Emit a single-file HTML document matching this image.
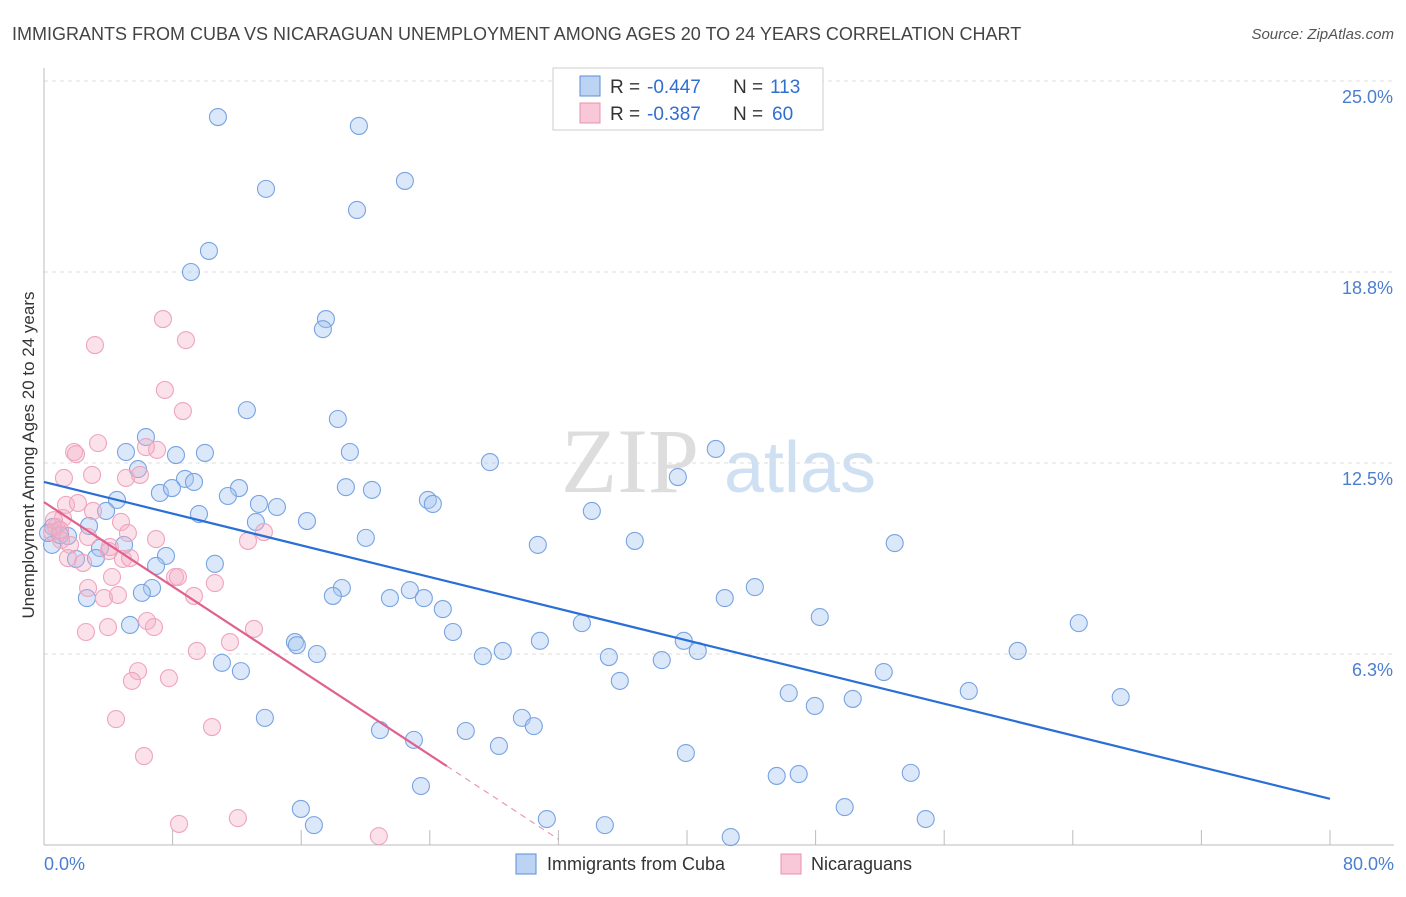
<!DOCTYPE html>
<html><head><meta charset="utf-8"><style>
body{margin:0;background:#fff;font-family:"Liberation Sans",sans-serif}
svg text{font-family:"Liberation Sans",sans-serif}
</style></head><body>
<svg id="c" width="1406" height="892">
<text x="12" y="40" font-size="18" fill="#444">IMMIGRANTS FROM CUBA VS NICARAGUAN UNEMPLOYMENT AMONG AGES 20 TO 24 YEARS CORRELATION CHART</text>
<text x="1394" y="39" font-size="15" fill="#555" font-style="italic" text-anchor="end">Source: ZipAtlas.com</text>
<g><text x="630" y="492" font-size="92" fill="#ddd" font-family="Liberation Serif" text-anchor="middle" style="font-family:'Liberation Serif',serif">ZIP</text><text x="800" y="492" font-size="72" fill="#cfe0f3" text-anchor="middle">atlas</text></g>
<g id="grid"></g>
<g id="pts"></g>
<g id="lines"></g>
<text transform="translate(34,455) rotate(-90)" font-size="17" fill="#333" text-anchor="middle">Unemployment Among Ages 20 to 24 years</text>
<text x="44" y="870" font-size="18" fill="#4a7fd0">0.0%</text>
<text x="1394" y="870" font-size="18" fill="#4a7fd0" text-anchor="end">80.0%</text>
<g>
<rect x="553" y="68" width="270" height="62" fill="#fff" stroke="#ccc"/>
<rect x="580" y="76" width="20" height="20" fill="#bcd3f3" stroke="#5b8fd9"/>
<rect x="580" y="103" width="20" height="20" fill="#f8c8d8" stroke="#e890ae"/>
<text x="610" y="93" font-size="19" fill="#333">R =</text>
<text x="647" y="93" font-size="19" fill="#2f6fd0">-0.447</text>
<text x="733" y="93" font-size="19" fill="#333">N =</text>
<text x="770" y="93" font-size="19" fill="#2f6fd0">113</text>
<text x="610" y="120" font-size="19" fill="#333">R =</text>
<text x="647" y="120" font-size="19" fill="#2f6fd0">-0.387</text>
<text x="733" y="120" font-size="19" fill="#333">N =</text>
<text x="772" y="120" font-size="19" fill="#2f6fd0">60</text>
</g>
<g>
<rect x="516" y="854" width="20" height="20" fill="#bcd3f3" stroke="#5b8fd9"/>
<text x="547" y="870" font-size="18" fill="#333">Immigrants from Cuba</text>
<rect x="781" y="854" width="20" height="20" fill="#f8c8d8" stroke="#e890ae"/>
<text x="811" y="870" font-size="18" fill="#333">Nicaraguans</text>
</g>
</svg>
<script>
const yTicks=[6.25,12.5,18.75,25];
const yTickLabels=["6.3%","12.5%","18.8%","25.0%"];
const xTicks=[0,8,16,24,32,40,48,56,64,72,80];
const cubaX=[10.82,19.59,13.81,22.45,19.47,10.26,9.14,17.54,17.35,12.62,18.28,6.34,5.10,10.01,8.21,19.03,27.74,41.79,39.43,5.85,8.77,9.33,7.21,7.96,12.13,11.44,18.78,20.40,4.54,13.37,14.49,23.88,24.19,9.64,3.86,13.18,16.36,34.08,20.02,30.72,36.75,52.92,2.80,0.56,1.49,3.48,4.98,7.59,3.23,1.99,6.97,10.63,44.22,18.53,22.76,17.97,21.52,23.63,6.72,6.09,2.67,42.35,24.81,48.26,64.37,33.46,5.35,25.44,15.61,15.73,30.85,39.80,40.67,16.98,28.54,27.30,35.14,38.43,60.57,11.07,12.25,52.24,35.82,57.53,46.33,50.31,47.95,66.98,13.74,29.73,30.47,20.90,26.24,23.01,28.30,39.93,45.58,46.95,53.92,23.45,15.98,49.81,16.79,31.28,34.89,54.85,42.72,0.50,1.00,0.25];
const cubaY=[23.82,23.53,21.47,21.73,20.78,19.44,18.75,17.21,16.88,14.23,13.94,13.35,12.86,12.83,12.76,12.86,12.53,12.96,12.04,12.30,11.98,11.88,11.52,11.68,11.68,11.42,11.71,11.62,11.29,11.16,11.06,11.29,11.16,10.83,10.93,10.57,10.60,10.93,10.05,9.82,9.95,9.88,10.44,10.41,10.11,9.72,9.82,9.46,9.39,9.36,9.13,9.20,8.44,8.41,8.34,8.15,8.08,8.08,8.41,8.25,8.08,8.08,7.72,7.46,7.26,7.26,7.20,6.97,6.64,6.54,6.68,6.68,6.35,6.25,6.35,6.18,6.15,6.05,6.35,5.96,5.69,5.66,5.37,5.04,4.97,4.78,4.55,4.84,4.16,4.16,3.89,3.76,3.73,3.44,3.24,3.01,2.26,2.32,2.36,1.93,1.18,1.24,0.65,0.85,0.65,0.85,0.26,9.82,10.14,10.21];
const nicX=[7.40,8.83,3.17,7.52,8.64,3.36,1.87,1.99,7.03,6.34,1.24,2.99,5.10,5.97,1.37,2.11,3.05,4.79,1.18,0.75,0.50,1.06,1.62,2.74,4.10,5.22,6.97,12.69,13.68,4.04,4.91,5.35,1.49,2.43,8.15,8.33,10.63,4.23,2.74,4.60,3.73,9.33,6.41,6.84,3.98,2.61,13.06,11.57,9.51,5.85,5.47,7.77,4.48,10.45,6.22,8.40,12.06,20.83,0.62,1.00];
const nicY=[17.21,16.52,16.36,14.89,14.20,13.15,12.86,12.79,12.93,13.02,12.01,12.11,12.01,12.11,11.13,11.19,10.93,10.57,10.70,10.41,10.24,9.98,9.82,10.08,9.75,10.21,10.01,9.95,10.24,9.62,9.36,9.39,9.39,9.23,8.77,8.77,8.57,8.77,8.41,8.18,8.08,8.15,7.33,7.13,7.13,6.97,7.07,6.64,6.35,5.69,5.37,5.46,4.12,3.86,2.91,0.69,0.88,0.29,10.63,10.31];
const cubaFit=[11.88,-0.1296];
const nicFit=[11.22,-0.3447];
const nicSolidEnd=25.06, nicDashEnd=32.03;
const NS='http://www.w3.org/2000/svg';
const X=v=>44+v*16.075, Y=v=>845-v*30.56;
function mk(t,a,p){const e=document.createElementNS(NS,t);for(const k in a)e.setAttribute(k,a[k]);p.appendChild(e);return e;}
const grid=document.getElementById('grid');
yTicks.forEach((t,i)=>{
 const l=mk('line',{x1:44,x2:1394,y1:Y(t),y2:Y(t),stroke:'#ddd','stroke-dasharray':'4,4'},grid);
 
 
 const tx=mk('text',{x:1393,y:Y(t)+22,'font-size':18,fill:'#4a7fd0','text-anchor':'end'},grid);
 tx.textContent=yTickLabels[i];
 
 
});
const ax=mk('line',{x1:44,x2:44,y1:68,y2:845,stroke:'#bbb'},grid);


const bx=mk('line',{x1:44,x2:1394,y1:845,y2:845,stroke:'#bbb'},grid);


xTicks.forEach(t=>{
 const l=mk('line',{x1:X(t),x2:X(t),y1:830,y2:845,stroke:'#bbb'},grid);
 
 
});
const pts=document.getElementById('pts');
cubaX.forEach((v,i)=>{
 const c=mk('circle',{cx:X(v),cy:Y(cubaY[i]),r:8.5,fill:'rgba(165,198,240,0.4)',stroke:'#78a3e2','stroke-width':1.1},pts);
 
 
});
nicX.forEach((v,i)=>{
 const c=mk('circle',{cx:X(v),cy:Y(nicY[i]),r:8.5,fill:'rgba(245,175,198,0.36)',stroke:'#efa4bd','stroke-width':1.1},pts);
 
 
});
const lines=document.getElementById('lines');
const f=(fit,x)=>fit[0]+fit[1]*x;
const l1=mk('line',{x1:X(0),y1:Y(f(cubaFit,0)),x2:X(80),y2:Y(f(cubaFit,80)),stroke:'#2a6fd6','stroke-width':2.2},lines);


const l2=mk('line',{x1:X(0),y1:Y(f(nicFit,0)),x2:X(nicSolidEnd),y2:Y(f(nicFit,nicSolidEnd)),stroke:'#e0608e','stroke-width':2.2},lines);


const l3=mk('line',{x1:X(nicSolidEnd),y1:Y(f(nicFit,nicSolidEnd)),x2:X(nicDashEnd),y2:Y(f(nicFit,nicDashEnd)),stroke:'#e89ab5','stroke-width':1.2,'stroke-dasharray':'6,5'},lines);


</script>
</body></html>
